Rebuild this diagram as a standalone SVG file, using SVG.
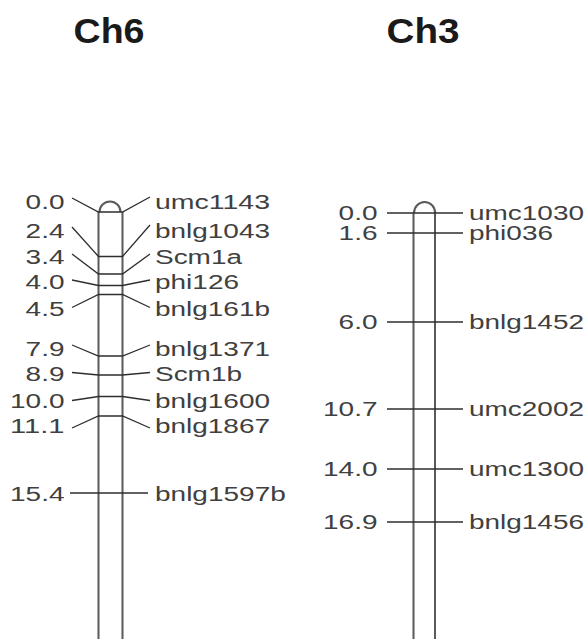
<svg xmlns="http://www.w3.org/2000/svg" width="587" height="639" viewBox="0 0 587 639">
<style>
.t{font-family:"Liberation Sans",Arial,sans-serif;font-size:20px;fill:#404040}
.h{font-family:"Liberation Sans",Arial,sans-serif;font-size:35px;font-weight:bold;fill:#1a1a1a}
.chr{stroke:#5a5a5a;stroke-width:2;fill:none}
.m{stroke:#2e2e2e;stroke-width:1.3;fill:none}
</style>
<rect width="587" height="639" fill="#fff"/>
<text class="h" x="73.5" y="43" textLength="71" lengthAdjust="spacingAndGlyphs">Ch6</text>
<text class="h" x="386.5" y="43" textLength="73" lengthAdjust="spacingAndGlyphs">Ch3</text>
<g id="ch6">
<path class="chr" d="M98.5,639 V212 M122.5,639 V212 M99.5,212 A10.5,10.5 0 0 1 120.5,212"/>
</g>
<g id="ch3">
<path class="chr" d="M413.5,639 V213 M435,639 V213 M414,213 A10.6,11 0 0 1 435.2,213"/>
</g>
<g id="connectors">
<polyline class="m" points="72,198 98.5,212 122.5,212 150,197"/>
<polyline class="m" points="72,227 98.5,256.5 122.5,256.5 150,225"/>
<polyline class="m" points="72,254 98.5,274 122.5,274 150,254"/>
<polyline class="m" points="72,280 98.5,285.5 122.5,285.5 150,280"/>
<polyline class="m" points="72,307.5 98.5,294.5 122.5,294.5 150,307.5"/>
<polyline class="m" points="72,345 98.5,356 122.5,356 150,345"/>
<polyline class="m" points="72,372.5 98.5,375 122.5,375 150,372.5"/>
<polyline class="m" points="72,400.5 98.5,396.5 122.5,396.5 150,400.5"/>
<polyline class="m" points="72,428 98.5,416 122.5,416 150,428"/>
<polyline class="m" points="70,493 148,493"/>
<polyline class="m" points="387,213 463,213"/>
<polyline class="m" points="387,233 463,233"/>
<polyline class="m" points="387,322 463,322"/>
<polyline class="m" points="387,409 463,409"/>
<polyline class="m" points="387,469 463,469"/>
<polyline class="m" points="387,522 463,522"/>
</g>
<g id="ch6-labels">
<text class="t" x="25.6" y="209" textLength="38.9" lengthAdjust="spacingAndGlyphs">0.0</text>
<text class="t" x="155" y="209" textLength="115" lengthAdjust="spacingAndGlyphs">umc1143</text>
<text class="t" x="25.6" y="237.5" textLength="38.9" lengthAdjust="spacingAndGlyphs">2.4</text>
<text class="t" x="155" y="237.5" textLength="115" lengthAdjust="spacingAndGlyphs">bnlg1043</text>
<text class="t" x="25.6" y="263.5" textLength="38.9" lengthAdjust="spacingAndGlyphs">3.4</text>
<text class="t" x="155" y="263.5" textLength="87" lengthAdjust="spacingAndGlyphs">Scm1a</text>
<text class="t" x="25.6" y="289" textLength="38.9" lengthAdjust="spacingAndGlyphs">4.0</text>
<text class="t" x="155" y="289" textLength="84" lengthAdjust="spacingAndGlyphs">phi126</text>
<text class="t" x="25.6" y="315.5" textLength="38.9" lengthAdjust="spacingAndGlyphs">4.5</text>
<text class="t" x="155" y="315.5" textLength="115" lengthAdjust="spacingAndGlyphs">bnlg161b</text>
<text class="t" x="25.6" y="355.5" textLength="38.9" lengthAdjust="spacingAndGlyphs">7.9</text>
<text class="t" x="155" y="355.5" textLength="115" lengthAdjust="spacingAndGlyphs">bnlg1371</text>
<text class="t" x="25.6" y="380.5" textLength="38.9" lengthAdjust="spacingAndGlyphs">8.9</text>
<text class="t" x="155" y="380.5" textLength="87" lengthAdjust="spacingAndGlyphs">Scm1b</text>
<text class="t" x="10" y="407.5" textLength="54.5" lengthAdjust="spacingAndGlyphs">10.0</text>
<text class="t" x="155" y="407.5" textLength="115" lengthAdjust="spacingAndGlyphs">bnlg1600</text>
<text class="t" x="10" y="432.5" textLength="54.5" lengthAdjust="spacingAndGlyphs">11.1</text>
<text class="t" x="155" y="432.5" textLength="115" lengthAdjust="spacingAndGlyphs">bnlg1867</text>
<text class="t" x="10" y="500.5" textLength="54.5" lengthAdjust="spacingAndGlyphs">15.4</text>
<text class="t" x="155" y="500.5" textLength="130.8" lengthAdjust="spacingAndGlyphs">bnlg1597b</text>
</g>
<g id="ch3-labels">
<text class="t" x="338.6" y="219.5" textLength="38.9" lengthAdjust="spacingAndGlyphs">0.0</text>
<text class="t" x="469" y="219.5" textLength="115" lengthAdjust="spacingAndGlyphs">umc1030</text>
<text class="t" x="338.6" y="239.5" textLength="38.9" lengthAdjust="spacingAndGlyphs">1.6</text>
<text class="t" x="469" y="239.5" textLength="84" lengthAdjust="spacingAndGlyphs">phi036</text>
<text class="t" x="338.6" y="329" textLength="38.9" lengthAdjust="spacingAndGlyphs">6.0</text>
<text class="t" x="469" y="329" textLength="115" lengthAdjust="spacingAndGlyphs">bnlg1452</text>
<text class="t" x="323" y="416" textLength="54.5" lengthAdjust="spacingAndGlyphs">10.7</text>
<text class="t" x="469" y="416" textLength="115" lengthAdjust="spacingAndGlyphs">umc2002</text>
<text class="t" x="323" y="476" textLength="54.5" lengthAdjust="spacingAndGlyphs">14.0</text>
<text class="t" x="469" y="476" textLength="115" lengthAdjust="spacingAndGlyphs">umc1300</text>
<text class="t" x="323" y="529" textLength="54.5" lengthAdjust="spacingAndGlyphs">16.9</text>
<text class="t" x="469" y="529" textLength="115" lengthAdjust="spacingAndGlyphs">bnlg1456</text>
</g>
</svg>
